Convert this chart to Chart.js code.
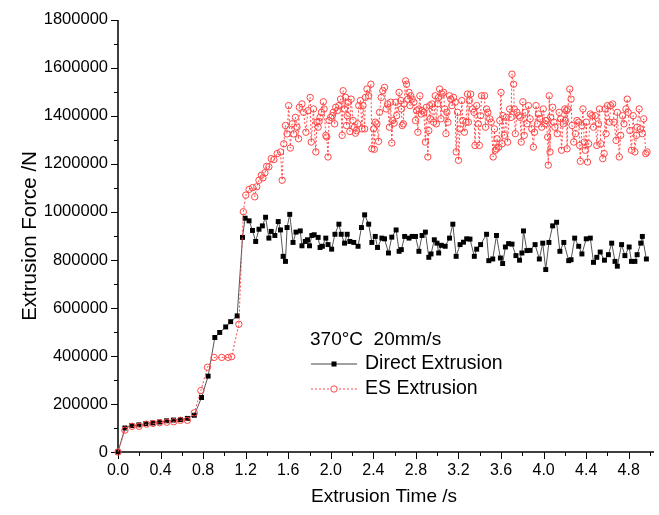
<!DOCTYPE html>
<html><head><meta charset="utf-8">
<script src="https://cdn.jsdelivr.net/npm/chart.js@4/dist/chart.umd.min.js"></script>
<style>html,body{margin:0;padding:0;background:#fff}</style>
</head><body>
<canvas id="c" width="659" height="515"></canvas>
<script>
// ---- data (time in s, force in kN; axis shows N) ----
const directTime=[0,0.065,0.130,0.196,0.261,0.326,0.391,0.456,0.521,0.587,0.652,0.717,0.785,0.847,0.910,0.956,1.012,1.059,1.120,
1.170,1.195,1.232,1.264,1.294,1.325,1.357,1.387,1.418,1.440,1.474,1.506,1.527,1.552,1.574,1.589,1.614,1.645,1.673,1.713,1.729,1.760,1.781,1.800,1.822,1.844,
1.881,1.899,1.921,1.953,1.974,2.008,2.039,2.076,2.098,2.129,2.154,2.179,2.216,2.256,2.288,2.318,2.356,2.386,2.418,2.439,2.480,2.505,2.542,2.573,2.614,
2.642,2.663,2.694,2.735,2.765,2.796,2.828,2.858,2.889,2.921,2.942,2.973,2.998,3.014,3.038,3.075,3.116,3.147,3.178,3.215,3.247,3.277,3.308,3.349,3.371,3.408,
3.464,3.485,3.522,3.557,3.594,3.615,3.641,3.671,3.703,3.740,3.774,3.796,3.811,3.843,3.873,3.920,3.960,3.992,4.020,4.050,4.085,4.122,4.153,4.190,
4.236,4.258,4.292,4.330,4.360,4.401,4.439,4.469,4.500,4.532,4.572,4.609,4.640,4.671,4.693,4.733,4.764,4.804,4.826,4.858,4.879,4.913,4.928,4.966];
const directForceKN=[0,100,110,113,118,121,125,130,133,135,140,153,227,316,477,498,521,543,567,
894,974,963,923,877,928,942,978,891,919,902,960,925,815,794,935,990,873,916,921,859,877,884,859,902,905,
894,852,857,891,864,845,907,949,907,870,907,877,873,857,935,988,949,873,898,852,891,888,829,895,925,
836,843,898,891,898,898,836,902,916,811,825,884,870,829,861,857,891,949,815,864,874,888,887,815,845,864,
907,797,804,902,808,785,854,868,866,818,799,829,921,839,840,864,804,870,760,873,942,957,836,873,
797,801,891,857,825,888,891,790,811,833,799,822,870,794,774,864,818,854,794,794,822,870,898,804];

const esTime=[0,0.065,0.133,0.198,0.267,0.329,0.391,0.459,0.524,0.587,0.652,0.717,0.779,0.841,0.903,0.975,1.036,1.068,1.136,1.178,1.201,
1.232,1.264,1.285,1.304,1.325,1.347,1.362,1.381,1.397,1.418,1.440,1.465,1.496,1.527,1.543,1.558,1.574,1.589,1.604,1.620,1.636,1.651,1.667,1.682,1.697,1.704,1.729,1.744,1.766,1.785,1.806,1.816,1.837,
1.859,1.869,1.881,1.890,1.899,1.912,1.930,1.937,1.953,1.962,1.974,1.983,1.999,2.014,2.023,2.036,2.046,2.061,2.076,2.092,2.107,2.116,2.129,2.139,2.148,2.154,2.163,2.179,2.191,2.210,2.222,2.232,2.241,2.253,2.263,2.278,2.293,2.303,2.318,2.325,2.340,2.356,2.377,2.386,2.402,2.409,2.418,2.433,2.449,2.458,2.474,2.489,2.505,2.520,2.533,2.551,2.563,2.573,2.582,2.595,2.610,2.619,
2.642,2.657,2.663,2.672,2.682,2.688,2.703,2.712,2.725,2.735,2.744,2.750,2.765,2.781,2.796,2.806,2.818,2.828,2.837,2.849,2.858,2.874,2.889,2.898,2.912,2.921,2.930,2.936,2.952,2.967,2.982,2.992,3.005,3.014,3.023,3.035,3.045,3.060,3.070,3.082,3.091,3.101,3.116,3.128,3.138,3.154,3.169,3.178,3.191,3.200,3.215,3.231,3.240,3.256,3.271,3.284,3.293,3.303,3.315,3.333,3.346,3.355,3.371,3.386,3.396,3.408,3.417,
3.445,3.454,3.464,3.476,3.494,3.507,3.526,3.538,3.547,3.557,3.563,3.578,3.588,3.600,3.610,3.619,3.631,3.650,3.662,3.681,3.694,3.703,3.718,3.724,3.734,3.749,3.765,3.780,3.790,3.805,3.818,3.827,3.843,3.858,3.873,3.889,3.904,3.914,3.929,3.942,3.951,3.966,3.982,3.997,4.013,4.022,4.038,4.044,4.053,4.060,4.066,4.085,4.097,4.106,4.128,4.146,4.159,4.168,4.184,4.199,
4.205,4.215,4.221,4.227,4.246,4.258,4.267,4.283,4.299,4.314,4.330,4.339,4.345,4.360,4.370,4.382,4.392,4.401,4.413,4.423,4.439,4.454,4.469,4.485,4.500,4.516,4.525,4.537,4.556,4.569,4.578,4.587,4.600,4.618,4.631,4.649,4.662,4.681,4.693,4.711,4.724,4.742,4.755,4.774,4.786,4.795,4.811,4.826,4.842,4.858,4.873,4.879,4.898,4.910,4.928,4.941,4.960,4.972];
const esForceKN=[0,91,107,107,116,119,122,124,126,132,132,163,256,353,394,394,394,397,532,1001,1070,
1094,1101,1063,1105,1132,1153,1142,1163,1190,1188,1222,1218,1243,1250,1132,1284,1360,1325,1443,1266,1367,1325,1394,1353,1305,1436,1450,1415,1332,1422,1477,1291,1429,
1250,1374,1353,1377,1394,1415,1459,1429,1319,1312,1229,1381,1394,1401,1415,1367,1436,1422,1443,1470,1319,1505,1429,1477,1360,1401,1457,1335,1470,1381,1353,1328,1339,1367,1443,1464,1346,1443,1346,1477,1512,1484,1532,1263,1346,1261,1374,1367,1294,1415,1477,1505,1519,1429,1450,1353,1457,1287,1381,1370,1457,1401,
1498,1464,1429,1360,1367,1450,1546,1532,1470,1498,1443,1484,1470,1457,1381,1422,1332,1429,1484,1408,1422,1415,1291,1436,1229,1339,1443,1388,1450,1374,1484,1367,1450,1477,1512,1388,1491,1498,1429,1326,1415,1374,1484,1470,1443,1477,1457,1250,1415,1215,1346,1464,1381,1332,1374,1491,1374,1464,1491,1429,1415,1277,1443,1367,1277,1401,1484,
1484,1353,1429,1415,1388,1374,1229,1346,1257,1263,1305,1270,1381,1498,1284,1401,1319,1394,1291,1429,1394,1574,1532,1429,1326,1415,1401,1394,1291,1459,1319,1415,1367,1443,1388,1346,1270,1332,1443,1367,1408,1388,1353,1429,1367,1381,1312,1195,1484,1250,1394,1436,1374,1353,1326,1415,1388,1257,1367,1429,
1381,1422,1263,1429,1512,1470,1360,1291,1326,1381,1374,1277,1211,1360,1429,1291,1257,1374,1208,1284,1408,1401,1353,1401,1277,1367,1429,1284,1222,1243,1429,1326,1443,1374,1443,1450,1374,1298,1415,1229,1319,1401,1367,1429,1470,1415,1339,1257,1401,1250,1319,1353,1429,1346,1326,1388,1243,1250];

const xTickLabels=['0.0','0.4','0.8','1.2','1.6','2.0','2.4','2.8','3.2','3.6','4.0','4.4','4.8'];
const yTickLabels=['0','200000','400000','600000','800000','1000000','1200000','1400000','1600000','1800000'];
const seriesNames=['Direct Extrusion','ES Extrusion'];
const legendTitle='370°C  20mm/s';
const xTitle='Extrusion Time /s';
const yTitle='Extrusion Force /N';

const FONT='"Liberation Sans", Arial, sans-serif';
const RED='rgb(255,70,70)';

function pts(t,f){const n=Math.min(t.length,f.length);const a=[];for(let i=0;i<n;i++)a.push({x:t[i],y:f[i]*1000});return a;}

const axesPlugin={
 id:'axesDeco',
 beforeDatasetsDraw(chart){
  const {ctx,chartArea:a,scales:{x,y}}=chart;
  ctx.save();
  ctx.strokeStyle='#000';
  ctx.lineWidth=1;
  for(let i=0;i<=25;i++){
    const v=i*0.2; const px=Math.round(x.getPixelForValue(v))+0.5;
    const len=(i%2===0)?7:4;
    ctx.beginPath();ctx.moveTo(px,a.bottom);ctx.lineTo(px,a.bottom+len);ctx.stroke();
  }
  for(let i=0;i<=18;i++){
    const v=i*100000; const py=Math.round(y.getPixelForValue(v))+0.5;
    const len=(i%2===0)?7:4;
    ctx.beginPath();ctx.moveTo(a.left,py);ctx.lineTo(a.left-len,py);ctx.stroke();
  }
  ctx.lineWidth=1.5;
  ctx.beginPath();ctx.moveTo(a.left,a.top);ctx.lineTo(a.left,a.bottom);ctx.lineTo(a.right+4,a.bottom);ctx.stroke();
  ctx.restore();
 },
 afterDraw(chart){
  const {ctx,chartArea:a}=chart;
  ctx.save();
  ctx.fillStyle='#000';
  ctx.textAlign='center';ctx.textBaseline='middle';
  ctx.font='19px '+FONT;
  ctx.fillText(xTitle,(a.left+a.right)/2,497);
  ctx.font='20.5px '+FONT;
  ctx.save();ctx.translate(30,(a.top+a.bottom)/2);ctx.rotate(-Math.PI/2);ctx.fillText(yTitle,0,0);ctx.restore();
  ctx.textAlign='left';
  ctx.font='19px '+FONT;
  ctx.fillText(legendTitle,310,340);
  const lx0=311,lx1=357,lm=334;
  ctx.font='19.5px '+FONT;
  ctx.strokeStyle='#444';ctx.lineWidth=1;ctx.setLineDash([]);
  ctx.beginPath();ctx.moveTo(lx0,364);ctx.lineTo(lx1,364);ctx.stroke();
  ctx.fillStyle='#000';ctx.fillRect(lm-2.5,361.5,5,5);
  ctx.fillText(seriesNames[0],365,364);
  ctx.strokeStyle=RED;ctx.setLineDash([2,2]);
  ctx.beginPath();ctx.moveTo(lx0,389);ctx.lineTo(lx1,389);ctx.stroke();
  ctx.setLineDash([]);ctx.fillStyle='#fff';
  ctx.beginPath();ctx.arc(lm,389,3.2,0,Math.PI*2);ctx.fill();ctx.stroke();
  ctx.fillStyle='#000';
  ctx.fillText(seriesNames[1],365,389);
  ctx.restore();
 }
};

new Chart(document.getElementById('c'),{
 type:'line',
 data:{datasets:[
  {label:seriesNames[1],data:pts(esTime,esForceKN),borderColor:RED,borderWidth:1,borderDash:[2,2],
   pointStyle:'circle',pointRadius:3.2,pointBorderWidth:1,pointBorderColor:RED,pointBackgroundColor:'rgba(255,255,255,0)',
   tension:0,clip:false,order:1},
  {label:seriesNames[0],data:pts(directTime,directForceKN),borderColor:'#555',borderWidth:1,
   pointStyle:'rect',pointRadius:3.5,pointBorderWidth:0,pointBackgroundColor:'#000',pointBorderColor:'#000',
   tension:0,clip:false,order:2}
 ]},
 options:{
  responsive:false,animation:false,devicePixelRatio:1,
  layout:{padding:{left:0,right:4,top:17,bottom:0}},
  plugins:{legend:{display:false},tooltip:{enabled:false}},
  elements:{line:{tension:0}},
  scales:{
   x:{type:'linear',min:0,max:5,
      border:{display:false},
      grid:{display:false,drawTicks:false},
      ticks:{stepSize:0.2,autoSkip:false,maxRotation:0,padding:9,color:'#000',font:{family:FONT,size:16},
        callback:(v)=>{const k=Math.round(v*10);return (k%4===0&&k/4<xTickLabels.length)?xTickLabels[k/4]:'';}},
      afterFit:(s)=>{s.height=63;}},
   y:{type:'linear',min:0,max:1800000,
      border:{display:false},
      grid:{display:false,drawTicks:false},
      ticks:{stepSize:100000,autoSkip:false,padding:10,color:'#000',font:{family:FONT,size:16.5},
        callback:(v)=>{const k=Math.round(v/100000);return (k%2===0)?yTickLabels[k/2]:'';}},
      afterFit:(s)=>{s.width=118;}}
  }
 },
 plugins:[axesPlugin]
});
</script>
</body></html>
